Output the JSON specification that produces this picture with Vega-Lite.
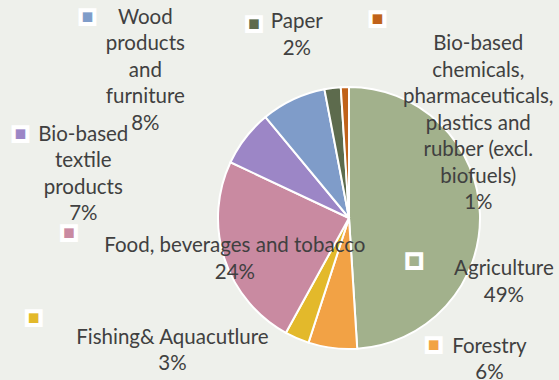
{
  "$schema": "https://vega.github.io/schema/vega-lite/v6.json",
  "autosize": "none",
  "width": 262,
  "height": 262,
  "padding": {"left": 218, "top": 87, "right": 79, "bottom": 31},
  "background": "#eef0eb",
  "config": {"view": {"stroke": null}},
  "data": {
    "values": [
      {"cat": "Agriculture", "label": "Agriculture\n49%", "value": 49, "order": 1},
      {"cat": "Forestry", "label": "Forestry\n6%", "value": 6, "order": 2},
      {"cat": "Fishing", "label": "Fishing& Aquacutlure\n3%", "value": 3, "order": 3},
      {"cat": "Food", "label": "Food, beverages and tobacco\n24%", "value": 24, "order": 4},
      {"cat": "Textile", "label": "Bio-based\ntextile\nproducts\n7%", "value": 7, "order": 5},
      {"cat": "Wood", "label": "Wood\nproducts\nand\nfurniture\n8%", "value": 8, "order": 6},
      {"cat": "Paper", "label": "Paper\n2%", "value": 2, "order": 7},
      {"cat": "Chemicals", "label": "Bio-based\nchemicals,\npharmaceuticals,\nplastics and\nrubber (excl.\nbiofuels)\n1%", "value": 1, "order": 8}
    ]
  },
  "encoding": {
    "theta": {"field": "value", "type": "quantitative", "stack": true},
    "order": {"field": "order", "type": "quantitative"},
    "color": {
      "field": "cat", "type": "nominal", "legend": null,
      "scale": {
        "domain": ["Agriculture", "Forestry", "Fishing", "Food", "Textile", "Wood", "Paper", "Chemicals"],
        "range": ["#a2b18c", "#f2a245", "#e3b92b", "#c98aa1", "#9c86c6", "#7f9cc9", "#5d6b4d", "#c0621a"]
      }
    }
  },
  "layer": [
    {"mark": {"type": "arc", "stroke": "white", "strokeWidth": 2}},
    {"mark": {"type": "text", "radius": 155, "dx": 0, "dy": 56, "font": "Lato", "fontSize": 20.5, "lineBreak": "\n", "lineHeight": 26.5, "align": "center", "baseline": "middle"},
     "encoding": {"color": {"value": "#404040"}, "detail": {"field": "cat"}, "text": {"condition": {"test": "datum.cat === 'Agriculture'", "field": "label"}, "value": ""}}},
    {"mark": {"type": "text", "radius": 140, "dx": 158, "dy": -10, "font": "Lato", "fontSize": 20.5, "lineBreak": "\n", "lineHeight": 26.5, "align": "center", "baseline": "middle"},
     "encoding": {"color": {"value": "#404040"}, "detail": {"field": "cat"}, "text": {"condition": {"test": "datum.cat === 'Forestry'", "field": "label"}, "value": ""}}},
    {"mark": {"type": "text", "radius": 150, "dx": -117, "dy": -18, "font": "Lato", "fontSize": 20.5, "lineBreak": "\n", "lineHeight": 26.5, "align": "center", "baseline": "middle"},
     "encoding": {"color": {"value": "#404040"}, "detail": {"field": "cat"}, "text": {"condition": {"test": "datum.cat === 'Fishing'", "field": "label"}, "value": ""}}},
    {"mark": {"type": "text", "radius": 120, "dx": 0, "dy": -9, "font": "Lato", "fontSize": 20.5, "lineBreak": "\n", "lineHeight": 26.5, "align": "center", "baseline": "middle"},
     "encoding": {"color": {"value": "#404040"}, "detail": {"field": "cat"}, "text": {"condition": {"test": "datum.cat === 'Food'", "field": "label"}, "value": ""}}},
    {"mark": {"type": "text", "radius": 235, "dx": -80, "dy": 61, "font": "Lato", "fontSize": 20.5, "lineBreak": "\n", "lineHeight": 26.5, "align": "center", "baseline": "middle"},
     "encoding": {"color": {"value": "#404040"}, "detail": {"field": "cat"}, "text": {"condition": {"test": "datum.cat === 'Textile'", "field": "label"}, "value": ""}}},
    {"mark": {"type": "text", "radius": 220, "dx": -110, "dy": -1, "font": "Lato", "fontSize": 20.5, "lineBreak": "\n", "lineHeight": 26.5, "align": "center", "baseline": "middle"},
     "encoding": {"color": {"value": "#404040"}, "detail": {"field": "cat"}, "text": {"condition": {"test": "datum.cat === 'Wood'", "field": "label"}, "value": ""}}},
    {"mark": {"type": "text", "radius": 185, "dx": -29, "dy": -12, "font": "Lato", "fontSize": 20.5, "lineBreak": "\n", "lineHeight": 26.5, "align": "center", "baseline": "middle"},
     "encoding": {"color": {"value": "#404040"}, "detail": {"field": "cat"}, "text": {"condition": {"test": "datum.cat === 'Paper'", "field": "label"}, "value": ""}}},
    {"mark": {"type": "text", "radius": 150, "dx": 134, "dy": -24, "font": "Lato", "fontSize": 20.5, "lineBreak": "\n", "lineHeight": 26.5, "align": "center", "baseline": "middle"},
     "encoding": {"color": {"value": "#404040"}, "detail": {"field": "cat"}, "text": {"condition": {"test": "datum.cat === 'Chemicals'", "field": "label"}, "value": ""}}},
    {"mark": {"type": "text", "radius": 155, "dx": -90, "dy": 48, "font": "DejaVu Sans", "fontSize": 18, "align": "center", "baseline": "middle", "stroke": "white", "strokeWidth": 4},
     "encoding": {"text": {"condition": {"test": "datum.cat === 'Agriculture'", "value": "■"}, "value": ""}}},
    {"mark": {"type": "text", "radius": 140, "dx": 102, "dy": -12, "font": "DejaVu Sans", "fontSize": 18, "align": "center", "baseline": "middle", "stroke": "white", "strokeWidth": 4},
     "encoding": {"text": {"condition": {"test": "datum.cat === 'Forestry'", "value": "■"}, "value": ""}}},
    {"mark": {"type": "text", "radius": 150, "dx": -256, "dy": -38, "font": "DejaVu Sans", "fontSize": 18, "align": "center", "baseline": "middle", "stroke": "white", "strokeWidth": 4},
     "encoding": {"text": {"condition": {"test": "datum.cat === 'Fishing'", "value": "■"}, "value": ""}}},
    {"mark": {"type": "text", "radius": 120, "dx": -166, "dy": -22, "font": "DejaVu Sans", "fontSize": 18, "align": "center", "baseline": "middle", "stroke": "white", "strokeWidth": 4},
     "encoding": {"text": {"condition": {"test": "datum.cat === 'Food'", "value": "■"}, "value": ""}}},
    {"mark": {"type": "text", "radius": 235, "dx": -143, "dy": 60, "font": "DejaVu Sans", "fontSize": 18, "align": "center", "baseline": "middle", "stroke": "white", "strokeWidth": 4},
     "encoding": {"text": {"condition": {"test": "datum.cat === 'Textile'", "value": "■"}, "value": ""}}},
    {"mark": {"type": "text", "radius": 220, "dx": -168, "dy": -2, "font": "DejaVu Sans", "fontSize": 18, "align": "center", "baseline": "middle", "stroke": "white", "strokeWidth": 4},
     "encoding": {"text": {"condition": {"test": "datum.cat === 'Wood'", "value": "■"}, "value": ""}}},
    {"mark": {"type": "text", "radius": 185, "dx": -72, "dy": -10, "font": "DejaVu Sans", "fontSize": 18, "align": "center", "baseline": "middle", "stroke": "white", "strokeWidth": 4},
     "encoding": {"text": {"condition": {"test": "datum.cat === 'Paper'", "value": "■"}, "value": ""}}},
    {"mark": {"type": "text", "radius": 150, "dx": 33, "dy": -49, "font": "DejaVu Sans", "fontSize": 18, "align": "center", "baseline": "middle", "stroke": "white", "strokeWidth": 4},
     "encoding": {"text": {"condition": {"test": "datum.cat === 'Chemicals'", "value": "■"}, "value": ""}}}
  ]
}
